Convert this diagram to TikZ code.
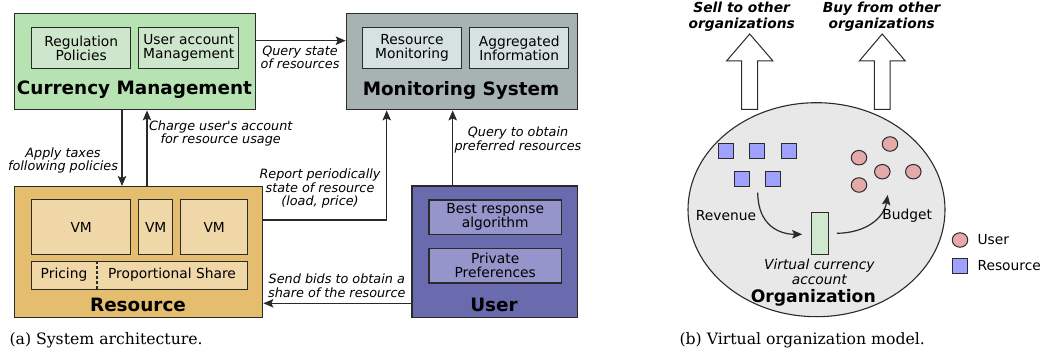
\documentclass[tikz,border=0pt]{standalone}
\usepackage{fontspec}
\newfontfamily\dv{DejaVu Sans}
\newfontfamily\dvserif{DejaVu Serif}
\usetikzlibrary{arrows.meta,shapes.geometric}

\definecolor{cmgreen}{HTML}{B7E2B1}
\definecolor{cmlight}{HTML}{CEE6CB}
\definecolor{mongray}{HTML}{A7B2B2}
\definecolor{monlight}{HTML}{D6E2E2}
\definecolor{resorange}{HTML}{E5BD6F}
\definecolor{reslight}{HTML}{EFD7A7}
\definecolor{userblue}{HTML}{6A6AAF}
\definecolor{userlight}{HTML}{9595CC}
\definecolor{orggray}{HTML}{E8E8E8}
\definecolor{resblue}{HTML}{A0A0FF}
\definecolor{userpink}{HTML}{E4A9A9}
\definecolor{accgreen}{HTML}{D2E8D0}
\definecolor{edge}{HTML}{2A2A2A}

\tikzset{
  box/.style={draw=edge, line width=1.4pt, anchor=north west, inner sep=0pt,
    align=center, font=\dv\fontsize{13.8}{14}\selectfont},
  title/.style={font=\dv\bfseries\fontsize{18.4}{20}\selectfont},
  inner/.style={font=\dv\fontsize{13.8}{14}\selectfont},
  lbl/.style={font=\dv\itshape\fontsize{12.8}{13.4}\selectfont, align=center},
  conn/.style={line width=1.2pt, draw=edge, -{Stealth[length=10pt,width=8.5pt,inset=2pt]}},
  sq/.style={draw=edge, line width=1pt, fill=resblue, minimum size=15pt, inner sep=0pt},
  usr/.style={draw=edge, line width=1pt, fill=userpink, ellipse, minimum width=15.5pt,
    minimum height=14.5pt, inner sep=0pt},
  hollow/.style={draw=edge, line width=1pt, fill=white, line join=miter},
  captext/.style={font=\dvserif\fontsize{15.7}{18}\selectfont, anchor=west},
  bi/.style={font=\dv\bfseries\itshape\fontsize{13.8}{15.3}\selectfont, align=center}
}

\begin{document}
\begin{tikzpicture}[x=1pt, y=-1pt]
\useasboundingbox (0,0) rectangle (1040,355);

% ---------- currency management ----------
\node[box, fill=cmgreen, minimum width=241pt, minimum height=96pt] (cm) at (14,13) {};
\node[box, fill=cmlight, minimum width=99pt, minimum height=41pt] (reg) at (31,27) {Regulation\\Policies};
\node[box, fill=cmlight, minimum width=100pt, minimum height=41pt] (uam) at (138,27) {User account\\Management};
\node[title] (cmt) at (134.5,90) {Currency Management};

% ---------- monitoring system ----------
\node[box, fill=mongray, minimum width=231pt, minimum height=96.3pt] (mon) at (345.7,12.7) {};
\node[box, fill=monlight, minimum width=99.3pt, minimum height=41pt] (rmon) at (361.7,27) {Resource\\Monitoring};
\node[box, fill=monlight, minimum width=99pt, minimum height=41pt] (agg) at (469,27) {Aggregated\\Information};
\node[title] (mont) at (461,90) {Monitoring System};

% ---------- resource ----------
\node[box, fill=resorange, minimum width=248pt, minimum height=130.7pt] (res) at (14,186) {};
\node[box, fill=reslight, minimum width=99pt, minimum height=55pt] (vma) at (31,199) {VM};
\node[box, fill=reslight, minimum width=34pt, minimum height=55pt] (vmb) at (138,199) {VM};
\node[box, fill=reslight, minimum width=67pt, minimum height=55pt] (vmc) at (180,199) {VM};
\node[box, fill=reslight, minimum width=216pt, minimum height=28pt] (bar) at (31,261) {};
\draw[edge, line width=1.1pt, dash pattern=on 3pt off 2pt] ([xshift=66pt]bar.north west) -- ([xshift=66pt]bar.south west);
\node[inner] (pricing) at (64,275) {Pricing};
\node[inner] (share) at (172,275) {Proportional Share};
\node[title] (rest) at (138,305) {Resource};

% ---------- user ----------
\node[box, fill=userblue, minimum width=165.4pt, minimum height=131.4pt] (user) at (411.3,185.3) {};
\node[box, fill=userlight, minimum width=132.4pt, minimum height=34.7pt] (best) at (428.3,199.3) {Best response\\algorithm};
\node[box, fill=userlight, minimum width=132.4pt, minimum height=34.6pt] (priv) at (428.3,247.7) {Private\\Preferences};
\node[title] (usert) at (494,305) {User};

% ---------- connectors ----------
\coordinate (qs) at (300,40.7);
\coordinate (tx) at (122,150);
\coordinate (ch) at (147,150);
\coordinate (rp) at (386.7,220);
\coordinate (qo) at (452.7,150);
\coordinate (sb) at (330,303.3);

\draw[conn] (cm.east |- qs) -- (mon.west |- qs);
\draw[conn] (cm.south -| tx) -- (res.north -| tx);
\draw[conn] (res.north -| ch) -- (cm.south -| ch);
\draw[conn] (res.east |- rp) -| (mon.south -| rp);
\draw[conn] (user.north -| qo) -- (mon.south -| qo);
\draw[conn] (user.west |- sb) -- (res.east |- sb);

\node[lbl] (lqs) at (300,57.5) {Query state\\of resources};
\node[lbl] (ltx) at (63,160.5) {Apply taxes\\following policies};
\node[lbl] (lch) at (220.7,133.5) {Charge user's account\\for resource usage};
\node[lbl] (lrp) at (320,188.5) {Report periodically\\state of resource\\(load, price)};
\node[lbl] (lqo) at (518,140) {Query to obtain\\preferred resources};
\node[lbl] (lsb) at (336.8,285.7) {Send bids to obtain a\\share of the resource};

% ---------- virtual organization ----------
\draw[hollow] (741.7,109.3) -- (741.7,61) -- (726.5,61) -- (749.7,34) -- (773,61) -- (757.7,61) -- (757.7,109.3) -- cycle;
\draw[hollow] (874.3,109.3) -- (874.3,61) -- (859.3,61) -- (882.2,34) -- (905.3,61) -- (890,61) -- (890,109.3) -- cycle;
\node[bi] (sell) at (741.7,16.7) {Sell to other\\organizations};
\node[bi] (buy) at (881.7,16.7) {Buy from other\\organizations};

\node[draw=edge, line width=1.1pt, fill=orggray, ellipse, minimum width=257pt, minimum height=214pt, inner sep=0pt] (org) at (816.5,209.7) {};

\node[sq] (r1) at (726.3,151) {};
\node[sq] (r2) at (757.3,151) {};
\node[sq] (r3) at (788.7,151) {};
\node[sq] (r4) at (742,178.7) {};
\node[sq] (r5) at (773.3,178.7) {};

\node[usr] (u1) at (890,144) {};
\node[usr] (u2) at (859,157.7) {};
\node[usr] (u3) at (882.3,171.7) {};
\node[usr] (u4) at (913.3,171.7) {};
\node[usr] (u5) at (859,185) {};

\node[draw=edge, line width=1pt, fill=accgreen, minimum width=16.6pt, minimum height=41.6pt, inner sep=0pt] (acc) at (820,233.5) {};

\coordinate (revs) at (757.7,192.7);
\coordinate (bude) at (887.7,195);
\draw[conn] (revs) .. controls (758,226) and (780,234.3) .. ([xshift=-9pt,yshift=-0.8pt]acc.west);
\draw[conn] ([xshift=8pt,yshift=0.2pt]acc.east) .. controls (866,233) and (884,218) .. (bude);

\node[inner] (rev) at (726,215.7) {Revenue};
\node[inner] (bud) at (907.3,215.7) {Budget};
\node[font=\dv\itshape\fontsize{13.8}{15}\selectfont, align=center] (vca) at (819.3,271.8) {Virtual currency\\account};
\node[font=\dv\bfseries\fontsize{17.2}{19}\selectfont] (orgt) at (813.3,297.7) {Organization};

% legend
\node[usr] (lu) at (960,240) {};
\node[sq] (lr) at (960,266) {};
\node[inner, anchor=west] (lut) at (974,240) {User};
\node[inner, anchor=west] (lrt) at (974,266) {Resource};

% ---------- captions ----------
\node[captext] (capa) at (6,340) {(a) System architecture.};
\node[captext] (capb) at (676,340) {(b) Virtual organization model.};
\end{tikzpicture}
\end{document}
